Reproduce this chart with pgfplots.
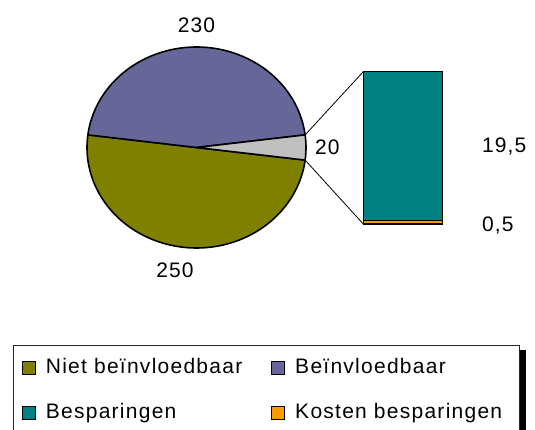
\documentclass[border=0pt]{standalone}
\usepackage{fontspec}
\setmainfont{Liberation Sans}[LetterSpace=5]
\newfontfamily\legfont{Liberation Sans}[LetterSpace=6]
\usepackage{pgfplots}
\pgfplotsset{compat=1.18}
\definecolor{cOlive}{HTML}{808000}
\definecolor{cPurple}{HTML}{666699}
\definecolor{cGrey}{HTML}{C0C0C0}
\definecolor{cTeal}{HTML}{008080}
\definecolor{cOrange}{HTML}{FF9900}
% data
\def\vNiet{250}
\def\vBein{230}
\def\vOther{20}
\def\vBesp{19.5}
\def\vKost{0.5}
\begin{document}
\begin{tikzpicture}[font=\fontsize{21pt}{25pt}\selectfont]
\path (0pt,0pt) rectangle (535pt,430pt);
\pgfmathsetmacro{\tot}{\vNiet+\vBein+\vOther}
\pgfmathsetmacro{\aG}{180/\tot*\vOther}
\pgfmathsetmacro{\aP}{\aG+360/\tot*\vBein}
\pgfmathsetmacro{\aO}{\aP+360/\tot*\vNiet}
\begin{axis}[name=pie, at={(87pt,182pt)}, anchor=south west,
  width=219pt, height=201pt, scale only axis, hide axis,
  xmin=-1, xmax=1, ymin=-1, ymax=1, clip=false]
\addplot[fill=cOlive, draw=black, line width=1.6pt, line join=round, domain=\aP:\aO, samples=90, variable=\t]
  ({cos(\t)},{sin(\t)}) -- (axis cs:0,0) -- cycle;
\addplot[fill=cPurple, draw=black, line width=1.6pt, line join=round, domain=\aG:\aP, samples=90, variable=\t]
  ({cos(\t)},{sin(\t)}) -- (axis cs:0,0) -- cycle;
\addplot[fill=cGrey, draw=black, line width=1.6pt, line join=round, domain=-\aG:\aG, samples=10, variable=\t]
  ({cos(\t)},{sin(\t)}) -- (axis cs:0,0) -- cycle;
\coordinate (gtop) at (axis cs:{cos(\aG)},{sin(\aG)});
\coordinate (gbot) at (axis cs:{cos(\aG)},{-sin(\aG)});
\node[anchor=base, inner sep=0pt] at (axis cs:0,1.149) {230};
\node[anchor=base, inner sep=0pt] at (axis cs:-0.196,-1.289) {250};
\node[anchor=base west, inner sep=0pt] at (axis cs:1.082,-0.065) {20};
\end{axis}
\begin{axis}[name=bar, at={(363.3pt,206pt)}, anchor=south west,
  width=79.4pt, height=152.3pt, scale only axis, hide axis,
  xmin=-0.5, xmax=0.5, ymin=0, ymax=20, clip=false,
  ybar stacked, bar width=79.4pt,
  legend columns=2,
  legend image code/.code={\draw[#1, draw=black, line width=1.3pt] (0pt,-1pt) rectangle (13pt,12pt);},
  legend style={at={(-4.4156,-0.7945)}, anchor=north west, draw=black!85, line width=0.8pt,
    fill=white, font=\fontsize{21pt}{25pt}\selectfont\legfont, overlay,
    inner xsep=8.5pt, inner ysep=12pt,
    cells={anchor=base west},
    nodes={inner sep=0pt, text height=16pt, text depth=2pt},
    /tikz/every odd column/.append style={column sep=10pt},
    /tikz/column 2/.append style={column sep=28.6pt},
    row sep=27pt},
  ]
\addplot[fill=cOrange, draw=black, line width=1.3pt, forget plot] coordinates {(0,\vKost)};
\addplot[fill=cTeal, draw=black, line width=1.3pt, forget plot] coordinates {(0,\vBesp)};
\addlegendimage{fill=cOlive}
\addlegendentry{Niet beïnvloedbaar}
\addlegendimage{fill=cPurple}
\addlegendentry{Beïnvloedbaar}
\addlegendimage{fill=cTeal}
\addlegendentry{Besparingen}
\addlegendimage{fill=cOrange}
\addlegendentry{Kosten besparingen\kern9pt}
\coordinate (btop) at (axis cs:-0.5,20);
\coordinate (bbot) at (axis cs:-0.5,0);
\node[anchor=base west, inner sep=0pt] at (axis cs:0.995,9.45) {19,5};
\node[anchor=base west, inner sep=0pt] at (axis cs:0.995,-1.01) {0,5};
\end{axis}
\draw[black, line width=0.8pt] (gtop) -- (btop);
\draw[black, line width=0.8pt] (gbot) -- (bbot);
\fill[black] (519.5pt,80pt) rectangle (526pt,0pt);
\end{tikzpicture}
\end{document}
